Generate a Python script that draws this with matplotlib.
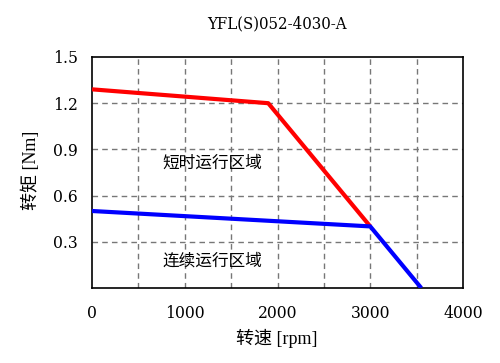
import matplotlib
matplotlib.use("Agg")
import matplotlib.pyplot as plt

# Data
red_speed = [0, 1900, 3000]
red_torque = [1.29, 1.20, 0.40]
blue_speed = [0, 3000, 3550]
blue_torque = [0.50, 0.40, 0.0]
x_ticks = [0, 1000, 2000, 3000, 4000]
y_ticks = [0.3, 0.6, 0.9, 1.2, 1.5]
y_tick_labels = ["0.3", "0.6", "0.9", "1.2", "1.5"]
title = "YFL(S)052-4030-A"
xlabel = "转速 [rpm]"
ylabel = "转矩 [Nm]"
region_short = "短时运行区域"
region_cont = "连续运行区域"

num_fam = ["DejaVu Serif", "Noto Sans CJK SC"]
fam = ["Liberation Serif", "Noto Sans CJK SC", "DejaVu Sans"]
plt.rcParams['font.family'] = fam

fig = plt.figure(figsize=(5, 3.63), dpi=100)
ax = fig.add_axes([0.184, 0.2066, 0.742, 0.6364])

ax.set_xlim(0, 4000)
ax.set_ylim(0, 1.5)

# grid
for gx in range(500, 4000, 500):
    ax.axvline(gx, color="#777777", lw=1, ls=(0, (4, 3)), zorder=1)
for gy in y_ticks[:-1]:
    ax.axhline(gy, color="#777777", lw=1, ls=(0, (4, 3)), zorder=1)

ax.plot(red_speed, red_torque, color="#ff0000", lw=3, zorder=3, solid_capstyle="butt")
ax.plot(blue_speed, blue_torque, color="#0000ff", lw=3, zorder=3, solid_capstyle="butt")

ax.set_xticks(x_ticks)
ax.set_xticklabels([str(v) for v in x_ticks], fontsize=12.5, family=num_fam, fontstretch="condensed")
ax.set_yticks(y_ticks)
ax.set_yticklabels(y_tick_labels, fontsize=12.5, family=num_fam, fontstretch="condensed")
ax.tick_params(length=0)
ax.tick_params(axis="x", pad=12)
ax.tick_params(axis="y", pad=10)

for s in ax.spines.values():
    s.set_linewidth(1.2)
    s.set_color("black")

ax.text(1300, 0.81, region_short, fontsize=12, ha="center", va="center")
ax.text(1300, 0.17, region_cont, fontsize=12, ha="center", va="center")

fig.text(0.553, 0.934, title, fontsize=12, ha="center", va="center", family=num_fam, fontstretch="condensed")
fig.text(0.553, 0.068, xlabel, fontsize=13, ha="center", va="center")
fig.text(0.062, 0.53, ylabel, fontsize=13, ha="center", va="center", rotation=90)

fig.savefig("out.png", dpi=100)
